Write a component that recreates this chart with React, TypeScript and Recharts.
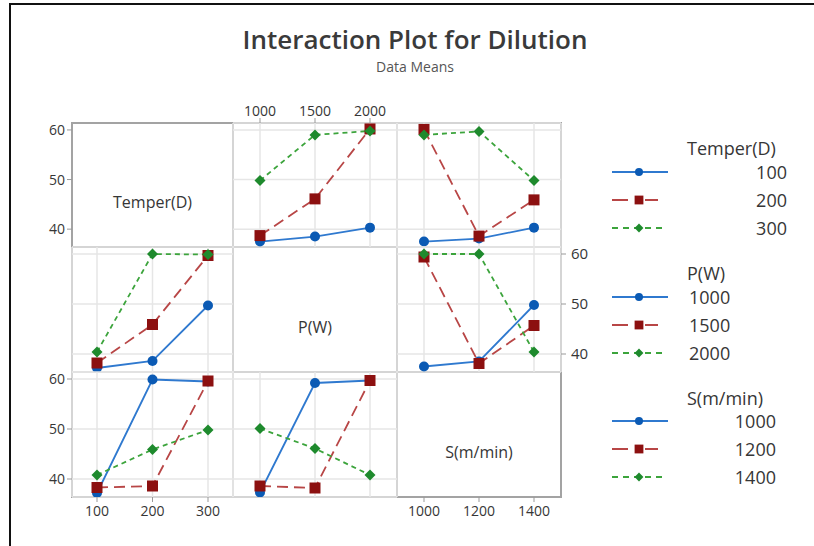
import React from 'react';
import { LineChart, Line, XAxis, YAxis, CartesianGrid } from 'recharts';

// factor levels
const temperLevels = ['100', '200', '300'];
const powerLevels = ['1000', '1500', '2000'];
const speedLevels = ['1000', '1200', '1400'];
const factorNames = ['Temper(D)', 'P(W)', 'S(m/min)'];
const yTicks = [40, 50, 60];
const yDomain: [number, number] = [36.4, 61.4];

// dilution means, one row per level of the line factor
const temperByPower = [
  [37.5, 38.5, 40.3],
  [38.7, 46.1, 60.2],
  [49.8, 59.0, 59.8],
];
const temperBySpeed = [
  [37.5, 38.1, 40.3],
  [60.1, 38.6, 45.9],
  [59.0, 59.7, 49.8],
];
const powerByTemper = [
  [37.2, 38.6, 49.7],
  [38.2, 45.9, 59.7],
  [40.4, 60.0, 59.9],
];
const powerBySpeed = [
  [37.5, 38.5, 49.8],
  [59.4, 38.1, 45.7],
  [60.0, 60.0, 40.4],
];
const speedByTemper = [
  [37.2, 59.9, 59.5],
  [38.3, 38.6, 59.6],
  [40.8, 45.9, 49.8],
];
const speedByPower = [
  [37.3, 59.2, 59.7],
  [38.6, 38.2, 59.7],
  [50.1, 46.1, 40.8],
];

const FONT = '"Open Sans", "Noto Sans", sans-serif';
const TEXT = '#363636';

const COLS = [
  { x: 72, w: 161, pad: 25 },
  { x: 233, w: 164, pad: 27 },
  { x: 397, w: 164, pad: 27 },
];
const ROWS = [
  { y: 123, h: 124 },
  { y: 247, h: 125 },
  { y: 372, h: 125 },
];

const seriesStyles = [
  { stroke: '#2f79cf', dash: undefined, marker: 'circle', fill: '#0b5ab4' },
  { stroke: '#b84646', dash: '11 6', marker: 'square', fill: '#8c1010' },
  { stroke: '#3ca43c', dash: '5 4', marker: 'diamond', fill: '#1e8a2d' },
];

function Marker({ kind, cx, cy, fill, s = 1 }: any) {
  if (kind === 'circle') return <circle cx={cx} cy={cy} r={5 * s} fill={fill} />;
  if (kind === 'square') {
    const h = 5.5 * s;
    return <rect x={cx - h} y={cy - h} width={2 * h} height={2 * h} fill={fill} />;
  }
  const d = 5.5 * s;
  return <polygon points={`${cx},${cy - d} ${cx + d},${cy} ${cx},${cy + d} ${cx - d},${cy}`} fill={fill} />;
}

const dotRenderer = (kind: string, fill: string) => (props: any) => (
  <g key={`${kind}-${props.index}`}>
    <Marker kind={kind} cx={props.cx} cy={props.cy} fill={fill} />
  </g>
);

interface PanelProps {
  row: number;
  col: number;
  xLevels: string[];
  series?: number[][];
  yAxis?: 'left' | 'right';
  xAxis?: 'top' | 'bottom';
  label?: string;
}

function Panel({ row, col, xLevels, series, yAxis, xAxis, label }: PanelProps) {
  const M = 44;
  const c = COLS[col];
  const r = ROWS[row];
  const data = xLevels.map((lv, i) => ({
    x: lv,
    s0: series ? series[0][i] : undefined,
    s1: series ? series[1][i] : undefined,
    s2: series ? series[2][i] : undefined,
  }));
  const tickStyle = { fontSize: 14, fill: TEXT, fontFamily: FONT };
  return (
    <div style={{ position: 'absolute', left: c.x - M, top: r.y - M }}>
      <LineChart
        width={c.w + 2 * M}
        height={r.h + 2 * M}
        data={data}
        margin={{
          top: xAxis === 'top' ? 0 : M,
          bottom: xAxis === 'bottom' ? 0 : M,
          left: yAxis === 'left' ? 0 : M,
          right: yAxis === 'right' ? 0 : M,
        }}
      >
        {series && <CartesianGrid stroke="#e6e6e6" strokeWidth={1.5} />}
        <XAxis
          dataKey="x"
          type="category"
          orientation={xAxis === 'top' ? 'top' : 'bottom'}
          hide={!xAxis}
          height={M}
          padding={{ left: c.pad, right: c.pad }}
          axisLine={false}
          tickLine={{ stroke: '#999' }}
          tickSize={5}
          tickMargin={xAxis === 'bottom' ? 4 : 2}
          tick={tickStyle}
          interval={0}
        />
        <YAxis
          type="number"
          domain={yDomain}
          ticks={yTicks}
          orientation={yAxis === 'right' ? 'right' : 'left'}
          hide={!yAxis}
          width={M}
          axisLine={false}
          tickLine={{ stroke: '#999' }}
          tickSize={5}
          tickMargin={yAxis === 'right' ? 5 : 2}
          tick={{ ...tickStyle, fontSize: yAxis === 'right' ? 15 : 14 }}
          allowDataOverflow
        />
        {series &&
          seriesStyles.map((st, i) => (
            <Line
              key={i}
              dataKey={`s${i}`}
              stroke={st.stroke}
              strokeWidth={1.8}
              strokeDasharray={st.dash}
              dot={dotRenderer(st.marker, st.fill)}
              activeDot={false}
              isAnimationActive={false}
            />
          ))}
      </LineChart>
      {label && (
        <div
          style={{
            position: 'absolute',
            left: M,
            top: M + r.h / 2 + 17,
            width: c.w,
            transform: 'translateY(-50%)',
            textAlign: 'center',
            fontSize: 16,
            color: TEXT,
            fontFamily: FONT,
            pointerEvents: 'none',
          }}
        >
          {label}
        </div>
      )}
    </div>
  );
}

const legendGroups = [
  { title: factorNames[0], levels: temperLevels, titleY: 148, itemY: 172, anchor: 'end', labelX: 787 },
  { title: factorNames[1], levels: powerLevels, titleY: 273, itemY: 297, anchor: 'start', labelX: 689 },
  { title: factorNames[2], levels: speedLevels, titleY: 398, itemY: 421, anchor: 'end', labelX: 776 },
];

function LegendSymbol({ i, y }: { i: number; y: number }) {
  const st = seriesStyles[i];
  return (
    <g>
      {i === 0 && <line x1={612} x2={668} y1={y} y2={y} stroke={st.stroke} strokeWidth={2} />}
      {i === 1 && (
        <>
          <line x1={612} x2={628} y1={y} y2={y} stroke={st.stroke} strokeWidth={2} />
          <line x1={645} x2={658} y1={y} y2={y} stroke={st.stroke} strokeWidth={2} />
        </>
      )}
      {i === 2 && <line x1={612} x2={662} y1={y} y2={y} stroke={st.stroke} strokeWidth={2} strokeDasharray="6 5" />}
      <Marker kind={st.marker} cx={639} cy={y} fill={st.fill} s={0.8} />
    </g>
  );
}

function LegendLayer() {
  return (
    <svg width={814} height={546} style={{ position: 'absolute', left: 0, top: 0, pointerEvents: 'none' }}>
      <text x={415} y={49} textAnchor="middle" fontSize={26} fontWeight={600} fill="#3a3a3a" fontFamily={FONT}>
        Interaction Plot for Dilution
      </text>
      <text x={415} y={72} textAnchor="middle" fontSize={14} fill="#555" fontFamily={FONT}>
        Data Means
      </text>
      {legendGroups.map((g) => (
        <g key={g.title}>
          <text x={687} y={g.titleY} dominantBaseline="central" fontSize={18} fill={TEXT} fontFamily={FONT}>
            {g.title}
          </text>
          {g.levels.map((lv, i) => {
            const y = g.itemY + i * 28;
            return (
              <g key={lv}>
                <LegendSymbol i={i} y={y} />
                <text x={g.labelX} y={y} dominantBaseline="central" textAnchor={g.anchor as any} fontSize={18} fill={TEXT} fontFamily={FONT}>
                  {lv}
                </text>
              </g>
            );
          })}
        </g>
      ))}
    </svg>
  );
}

export default function App() {
  const borders = [];
  for (let r = 0; r < 3; r++) {
    for (let c = 0; c < 3; c++) {
      borders.push(
        <div
          key={`${r}-${c}`}
          style={{
            position: 'absolute',
            left: COLS[c].x - 1,
            top: ROWS[r].y - 1,
            width: COLS[c].w + 2,
            height: ROWS[r].h + 2,
            border: '2px solid #a3a3a3',
            boxSizing: 'border-box',
          }}
        />
      );
    }
  }
  return (
    <div style={{ position: 'absolute', left: 0, top: 0, width: 814, height: 546, background: '#fff', overflow: 'hidden', fontFamily: FONT }}>
      <div style={{ position: 'absolute', left: 9, top: 3, width: 805, height: 2, background: '#111' }} />
      <div style={{ position: 'absolute', left: 9, top: 3, width: 2, height: 543, background: '#111' }} />
      {borders}
      <Panel row={0} col={0} xLevels={temperLevels} yAxis="left" label={factorNames[0]} />
      <Panel row={0} col={1} xLevels={powerLevels} series={temperByPower} xAxis="top" />
      <Panel row={0} col={2} xLevels={speedLevels} series={temperBySpeed} />
      <Panel row={1} col={0} xLevels={temperLevels} series={powerByTemper} />
      <Panel row={1} col={1} xLevels={powerLevels} label={factorNames[1]} />
      <Panel row={1} col={2} xLevels={speedLevels} series={powerBySpeed} yAxis="right" />
      <Panel row={2} col={0} xLevels={temperLevels} series={speedByTemper} yAxis="left" xAxis="bottom" />
      <Panel row={2} col={1} xLevels={powerLevels} series={speedByPower} />
      <Panel row={2} col={2} xLevels={speedLevels} xAxis="bottom" label={factorNames[2]} />
      <LegendLayer />
    </div>
  );
}
